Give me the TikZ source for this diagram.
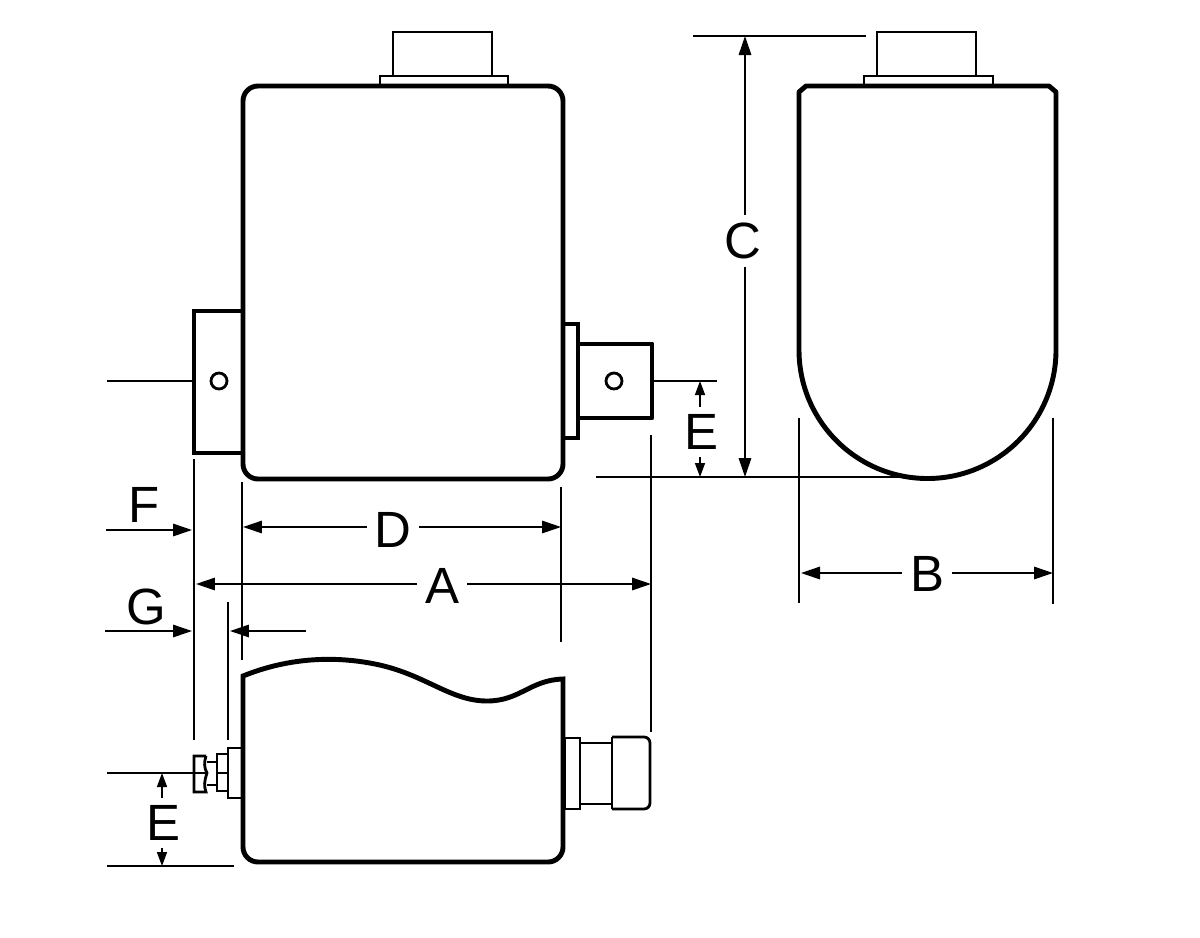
\documentclass[tikz,border=0pt]{standalone}
\usepackage{fontspec}
\setmainfont{Liberation Sans}
\usetikzlibrary{arrows.meta}

\tikzset{
  heavy/.style={line width=2.8pt,line join=round},
  medium/.style={line width=1.6pt},
  thin line/.style={line width=1pt},
  dim/.style={line width=.9pt,-{Triangle[length=.38cm,width=.25cm]}},
  dimsmall/.style={line width=.9pt,-{Triangle[length=.28cm,width=.2cm]}},
  letter/.style={font=\fontsize{29}{30}\selectfont,inner sep=.15cm}
}

\begin{document}
\begin{tikzpicture}[x=.02cm,y=-.02cm]
      \useasboundingbox (0,0) rectangle (1200,937);
      % front view
      \draw[heavy,rounded corners=.3cm] (243,86) rectangle (563,479);
      \draw[medium] (393,76) -- (393,32) -- (492,32) -- (492,76);
      \draw[medium] (380,85) rectangle (508,76);
      \draw[line width=2.2pt] (242,311) -- (194,311) -- (194,453) -- (242,453);
      \draw[line width=2.2pt] (563,324) -- (578,324) -- (578,438) -- (563,438);
      \draw[heavy] (578,344) -- (652,344) -- (652,418) -- (578,418);
      \draw[medium] (219,381) circle (8);
      \draw[medium] (614,381) circle (8);
      % end view
      \draw[medium] (877,76) -- (877,32) -- (976,32) -- (976,76);
      \draw[medium] (864,85) rectangle (993,76);
      \draw[heavy] (799,350) -- (799,92) -- (806,86) -- (1049,86) -- (1056,92) -- (1056,350)
        arc (0:180:128.5);
      % bottom view
      \draw[heavy,line join=miter,rounded corners=.3cm] (243,676) -- (243,862) -- (563,862) [sharp corners] -- (563,679)
        .. controls (530,680) and (520,701) .. (487,701)
        .. controls (450,701) and (425,674) .. (375,664)
        .. controls (330,655) and (285,659) .. (243,676) -- cycle;
      \draw[medium] (565,738) rectangle (580,809);
      \draw[medium] (580,743) -- (612,743) (580,804) -- (612,804);
      \draw[medium] (612,737) rectangle (612,809);
      \draw[medium,rounded corners=.12cm] (612,737) -- (650,737) -- (650,809) -- (612,809);
      \draw[medium] (241,748) -- (228,748) -- (228,798) -- (241,798);
      \draw[medium] (217,754) rectangle (228,791);
      \draw[thin line] (207,762) -- (217,762) (207,785) -- (217,785);
      \draw[medium] (206,756) -- (194,756) -- (194,792) -- (206,792)
        .. controls (204,786) and (204,782) .. (207,773)
        .. controls (204,768) and (204,762) .. (206,756);
      % labels
      \node[letter] (labC) at (743,241) {C};
      \node[letter] (labEa) at (701,432) {E};
      \node[letter] (labEb) at (163,823) {E};
      \node[letter] (labB) at (927,574) {B};
      \node[letter] (labD) at (393,530) {D};
      \node[letter] (labA) at (442,586) {A};
      \node[letter] (labF) at (144,505) {F};
      \node[letter] (labG) at (146,607) {G};
      % ends of the dimension lines
      \coordinate (topC) at (745,36);
      \coordinate (lowC) at (745,477);
      \coordinate (topEa) at (700,381);
      \coordinate (lowEa) at (700,477);
      \coordinate (topEb) at (162,773);
      \coordinate (lowEb) at (162,866);
      \coordinate (lB) at (801,573);
      \coordinate (rB) at (1053,573);
      \coordinate (lD) at (243,527);
      \coordinate (rD) at (561,527);
      \coordinate (lA) at (196,584);
      \coordinate (rA) at (651,584);
      % dimension lines
      \draw[dim] (labC.north -| topC) -- (topC);
      \draw[dim] (labC.south -| lowC) -- (lowC);
      \draw[dimsmall] (labEa.north -| topEa) -- (topEa);
      \draw[dimsmall] (labEa.south -| lowEa) -- (lowEa);
      \draw[dimsmall] (labEb.north -| topEb) -- (topEb);
      \draw[dimsmall] (labEb.south -| lowEb) -- (lowEb);
      \draw[dim] (labB.west |- lB) -- (lB);
      \draw[dim] (labB.east |- rB) -- (rB);
      \draw[dim] (labD.west |- lD) -- (lD);
      \draw[dim] (labD.east |- rD) -- (rD);
      \draw[dim] (labA.west |- lA) -- (lA);
      \draw[dim] (labA.east |- rA) -- (rA);
      \draw[dim] (106,530) coordinate (tailF) -- (192,530) coordinate (tipF);
      \draw[dim] (105,631) coordinate (tailG) -- (192,631) coordinate (tipG);
      \draw[dim] (306,631) coordinate (tailGb) -- (230,631) coordinate (tipGb);
      % extension lines
      \draw[thin line] (693,36) -- (866,36);
      \draw[thin line] (596,477) -- (928,477);
      \draw[thin line] (107,381) -- (194,381);
      \draw[thin line] (652,381) -- (717,381);
      \draw[thin line] (107,773) -- (207,773);
      \draw[thin line] (217,773) -- (228,773);
      \draw[thin line] (107,866) -- (234,866);
      \draw[thin line] (194,459) -- (194,740);
      \draw[thin line] (228,602) -- (228,740);
      \draw[thin line] (242,482) -- (242,660);
      \draw[thin line] (561,487) -- (561,642);
      \draw[thin line] (651,435) -- (651,732);
      \draw[thin line] (799,418) -- (799,603);
      \draw[thin line] (1053,418) -- (1053,604);
\end{tikzpicture}
\end{document}
